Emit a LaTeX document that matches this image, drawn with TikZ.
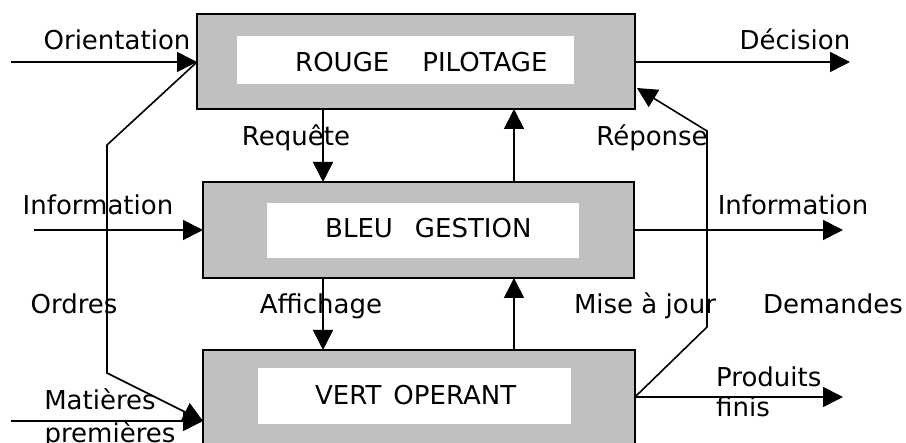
\documentclass[tikz,border=0pt]{standalone}
\usepackage{fontspec}
\setmainfont{DejaVu Sans}
\usetikzlibrary{arrows.meta}
\definecolor{boxgray}{HTML}{C0C0C0}
\begin{document}
\begin{tikzpicture}[x=1pt,y=-1pt,
  outerbox/.style={draw=black,line width=2.2pt,fill=boxgray,inner sep=0pt,outer sep=0pt,anchor=north west},
  innerbox/.style={fill=white,inner sep=0pt,outer sep=0pt,anchor=north west},
  lbl/.style={font=\fontsize{26}{30}\selectfont,inner sep=0pt,anchor=base},
  flow/.style={line width=1.6pt,-{Triangle[length=20pt,width=20pt]}},
  plainline/.style={line width=1.6pt}]
\useasboundingbox (0,0) rectangle (906,443);
\clip (0,0) rectangle (906,443);
% boxes
\node[outerbox,minimum width=438pt,minimum height=95pt] (r) at (197,14) {};
\node[outerbox,minimum width=431pt,minimum height=96pt] (b) at (203,182) {};
\node[outerbox,minimum width=432pt,minimum height=130pt] (v) at (203,350) {};
\node[innerbox,minimum width=337pt,minimum height=48pt] (ri) at (237,36) {};
\node[innerbox,minimum width=312pt,minimum height=55pt] (bi) at (267,203) {};
\node[innerbox,minimum width=313pt,minimum height=56pt] (vi) at (258,368) {};
\node[lbl,anchor=base west] (rt) at (295,72) {ROUGE\hspace{33pt}PILOTAGE};
\node[lbl,anchor=base west] (bt) at (325,238) {BLEU\hspace{22pt}GESTION};
\node[lbl,anchor=base west] (vt) at (315,405) {VERT\hspace{12pt}OPERANT};
% coordinates
\coordinate (oin) at (11,62);
\coordinate (o1) at (107,145);
\coordinate (o2) at (107,373);
\coordinate (mi) at (11,421);
\coordinate (cx1) at (323,0);
\coordinate (cx2) at (514,0);
\coordinate (dout) at (850,62);
\coordinate (iin) at (34,230);
\coordinate (iout) at (843,230);
\coordinate (pout) at (843,397);
\coordinate (p1) at (707,327);
\coordinate (p2) at (707,131);
\coordinate (rtip) at (637,88);
% connectors
\draw[flow] (oin) -- (r.west |- oin);
\draw[flow] (r.west |- oin) -- (o1) -- (o2) -- (v.west |- mi);
\draw[flow] (mi) -- (v.west |- mi);
\draw[flow] (iin) -- (b.west |- iin);
\draw[flow] (r.south -| cx1) -- (b.north -| cx1);
\draw[flow] (b.north -| cx2) -- (r.south -| cx2);
\draw[flow] (b.south -| cx1) -- (v.north -| cx1);
\draw[flow] (v.north -| cx2) -- (b.south -| cx2);
\draw[flow] (r.east |- dout) -- (dout);
\draw[flow] (b.east |- iout) -- (iout);
\draw[flow] (v.east |- pout) -- (pout);
\draw[flow] (v.east |- pout) -- (p1) -- (p2) -- (rtip);
% labels
\node[lbl] (lor) at (117,50) {Orientation};
\node[lbl] (lrq) at (296,146) {Requête};
\node[lbl] (lde) at (795,50) {Décision};
\node[lbl] (lre) at (652,146) {Réponse};
\node[lbl] (lil) at (98,215) {Information};
\node[lbl] (lir) at (793,215) {Information};
\node[lbl] (lod) at (74,314) {Ordres};
\node[lbl] (laf) at (321,314) {Affichage};
\node[lbl] (lmj) at (645,314) {Mise à jour};
\node[lbl] (ldm) at (833,314) {Demandes};
\node[lbl,anchor=base west] (lpr) at (716,387) {Produits};
\node[lbl,anchor=base west] (lfi) at (716,417) {finis};
\node[lbl] (lma) at (100,410) {Matières};
\node[lbl] (lpm) at (110,443) {premières};
\end{tikzpicture}
\end{document}
